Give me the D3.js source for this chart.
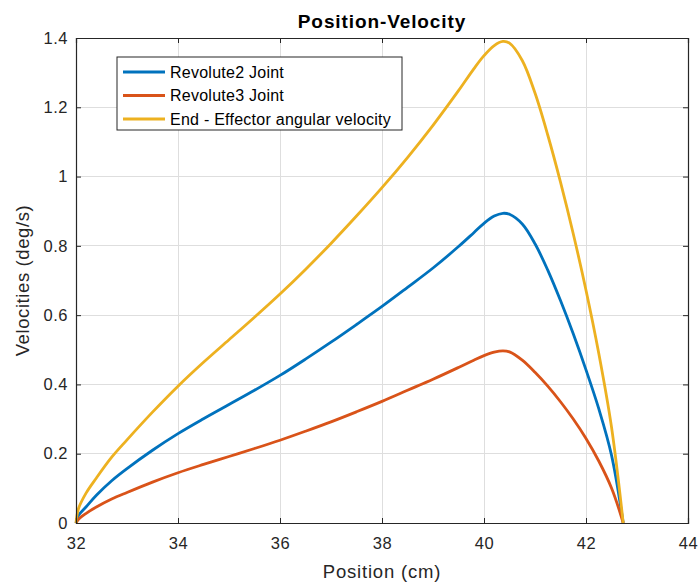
<!DOCTYPE html>
<html>
<head>
<meta charset="utf-8">
<script src="https://cdn.jsdelivr.net/npm/d3@7"></script>
<style>
  body { margin: 0; background: #fff; }
  svg { font-family: "Liberation Sans", Arial, sans-serif; }
</style>
</head>
<body>
<div id="chart"></div>
<script>
// データ------------------------------------------------------------
const positions = [32, 32.05, 32.2, 32.4, 32.7, 33, 33.5, 34, 34.5, 35, 35.5, 36, 36.5, 37, 37.5, 38, 38.5, 39, 39.5, 39.8, 40, 40.2, 40.37, 40.5, 40.75, 41, 41.25, 41.5, 41.75, 42, 42.25, 42.5, 42.73];
const revolute2 = [0, 0.022, 0.047, 0.08, 0.122, 0.157, 0.21, 0.258, 0.301, 0.342, 0.383, 0.426, 0.473, 0.522, 0.573, 0.625, 0.68, 0.736, 0.798, 0.838, 0.865, 0.886, 0.894, 0.891, 0.863, 0.806, 0.73, 0.642, 0.546, 0.442, 0.33, 0.196, 0];
const revolute3 = [0, 0.011, 0.028, 0.046, 0.069, 0.088, 0.118, 0.145, 0.169, 0.192, 0.215, 0.239, 0.265, 0.292, 0.321, 0.351, 0.383, 0.415, 0.449, 0.47, 0.483, 0.493, 0.497, 0.494, 0.47, 0.435, 0.395, 0.35, 0.3, 0.244, 0.179, 0.101, 0];
const endEffector = [0, 0.042, 0.087, 0.13, 0.19, 0.24, 0.32, 0.395, 0.464, 0.529, 0.594, 0.661, 0.732, 0.807, 0.886, 0.968, 1.055, 1.148, 1.248, 1.311, 1.349, 1.378, 1.39, 1.385, 1.335, 1.241, 1.12, 0.984, 0.835, 0.672, 0.49, 0.277, 0];
const seriesNames = ['Revolute2 Joint', 'Revolute3 Joint', 'End - Effector angular velocity'];
const xTicks = [32, 34, 36, 38, 40, 42, 44];
const yTicks = [0, 0.2, 0.4, 0.6, 0.8, 1, 1.2, 1.4];

// SVG領域--------------------------------------------------------------------
const width = 700, height = 585;
const margin = { top: 38, bottom: 62, left: 76, right: 12 };
const colors = ['#0072BD', '#D95319', '#EDB120'];
const axisColor = '#262626';

const svg = d3.select('#chart').append('svg')
  .attr('width', width)
  .attr('height', height);

// スケール---------------------------------------------------------------------
const xScale = d3.scaleLinear()
  .domain([32, 44])
  .range([margin.left, width - margin.right]);
const yScale = d3.scaleLinear()
  .domain([0, 1.4])
  .range([height - margin.bottom, margin.top]);

const x0 = margin.left, x1 = width - margin.right;
const y0 = height - margin.bottom, y1 = margin.top;

// グリッド---------------------------------------------------------------------
const grid = svg.append('g').attr('stroke', '#dedede').attr('stroke-width', 1).attr('shape-rendering', 'crispEdges');
grid.selectAll('.gx').data(xTicks).enter().append('line')
  .attr('x1', d => xScale(d)).attr('x2', d => xScale(d))
  .attr('y1', y0).attr('y2', y1);
grid.selectAll('.gy').data(yTicks).enter().append('line')
  .attr('y1', d => yScale(d)).attr('y2', d => yScale(d))
  .attr('x1', x0).attr('x2', x1);

// 線----------------------------------------------------------------------------
const line = d3.line()
  .x(d => xScale(d[0]))
  .y(d => yScale(d[1]))
  .curve(d3.curveCatmullRom.alpha(0.5));
[revolute2, revolute3, endEffector].forEach((vals, i) => {
  svg.append('path')
    .datum(positions.map((p, j) => [p, vals[j]]))
    .attr('fill', 'none')
    .attr('stroke', colors[i])
    .attr('stroke-width', 2.8)
    .attr('stroke-linejoin', 'round')
    .attr('d', line);
});

// 軸（MATLAB風：内向き目盛、四辺）------------------------------------------------
const axisx = d3.axisBottom(xScale).tickValues(xTicks).tickSize(-5).tickPadding(14).tickFormat(d => d);
const axisy = d3.axisLeft(yScale).tickValues(yTicks).tickSize(-5).tickPadding(8).tickFormat(d => String(+d.toFixed(1)));
svg.append('g').attr('transform', 'translate(0,' + y0 + ')').call(axisx);
svg.append('g').attr('transform', 'translate(' + x0 + ',0)').call(axisy);
svg.append('g').attr('transform', 'translate(0,' + y1 + ')')
  .call(d3.axisTop(xScale).tickValues(xTicks).tickSize(-5).tickFormat(''));
svg.append('g').attr('transform', 'translate(' + x1 + ',0)')
  .call(d3.axisRight(yScale).tickValues(yTicks).tickSize(-5).tickFormat(''));
svg.selectAll('.domain').attr('stroke', axisColor).attr('stroke-width', 1.2);
svg.selectAll('.tick line').attr('stroke', axisColor);
svg.selectAll('.tick text')
  .attr('fill', axisColor)
  .attr('font-size', '16.5px')
  .attr('letter-spacing', '0.5px')
  .attr('font-family', '"Liberation Sans", Arial, sans-serif');

// 表名・軸ラベル----------------------------------------------------------------
svg.append('text')
  .attr('x', (x0 + x1) / 2).attr('y', 28)
  .attr('text-anchor', 'middle')
  .attr('font-weight', 'bold')
  .attr('font-size', '19px')
  .attr('letter-spacing', '0.9px')
  .attr('fill', '#000')
  .text('Position-Velocity');
svg.append('text')
  .attr('x', (x0 + x1) / 2).attr('y', 578)
  .attr('text-anchor', 'middle')
  .attr('font-size', '18.5px')
  .attr('letter-spacing', '0.8px')
  .attr('fill', axisColor)
  .text('Position (cm)');
svg.append('text')
  .attr('transform', 'translate(29,' + ((y0 + y1) / 2) + ') rotate(-90)')
  .attr('text-anchor', 'middle')
  .attr('font-size', '18.5px')
  .attr('letter-spacing', '0.6px')
  .attr('fill', axisColor)
  .text('Velocities (deg/s)');

// 凡例--------------------------------------------------------------------------
const legend = svg.append('g');
legend.append('rect')
  .attr('x', 117).attr('y', 57)
  .attr('width', 285).attr('height', 73)
  .attr('fill', '#fff')
  .attr('stroke', axisColor)
  .attr('stroke-width', 1);
seriesNames.forEach((name, i) => {
  const ly = 72 + i * 23.5;
  legend.append('line')
    .attr('x1', 123).attr('x2', 165)
    .attr('y1', ly).attr('y2', ly)
    .attr('stroke', colors[i])
    .attr('stroke-width', 3);
  legend.append('text')
    .attr('x', 170).attr('y', ly + 5.5)
    .attr('font-size', '16px')
    .attr('letter-spacing', '0.25px')
    .attr('fill', '#000')
    .text(name);
});
</script>
</body>
</html>
